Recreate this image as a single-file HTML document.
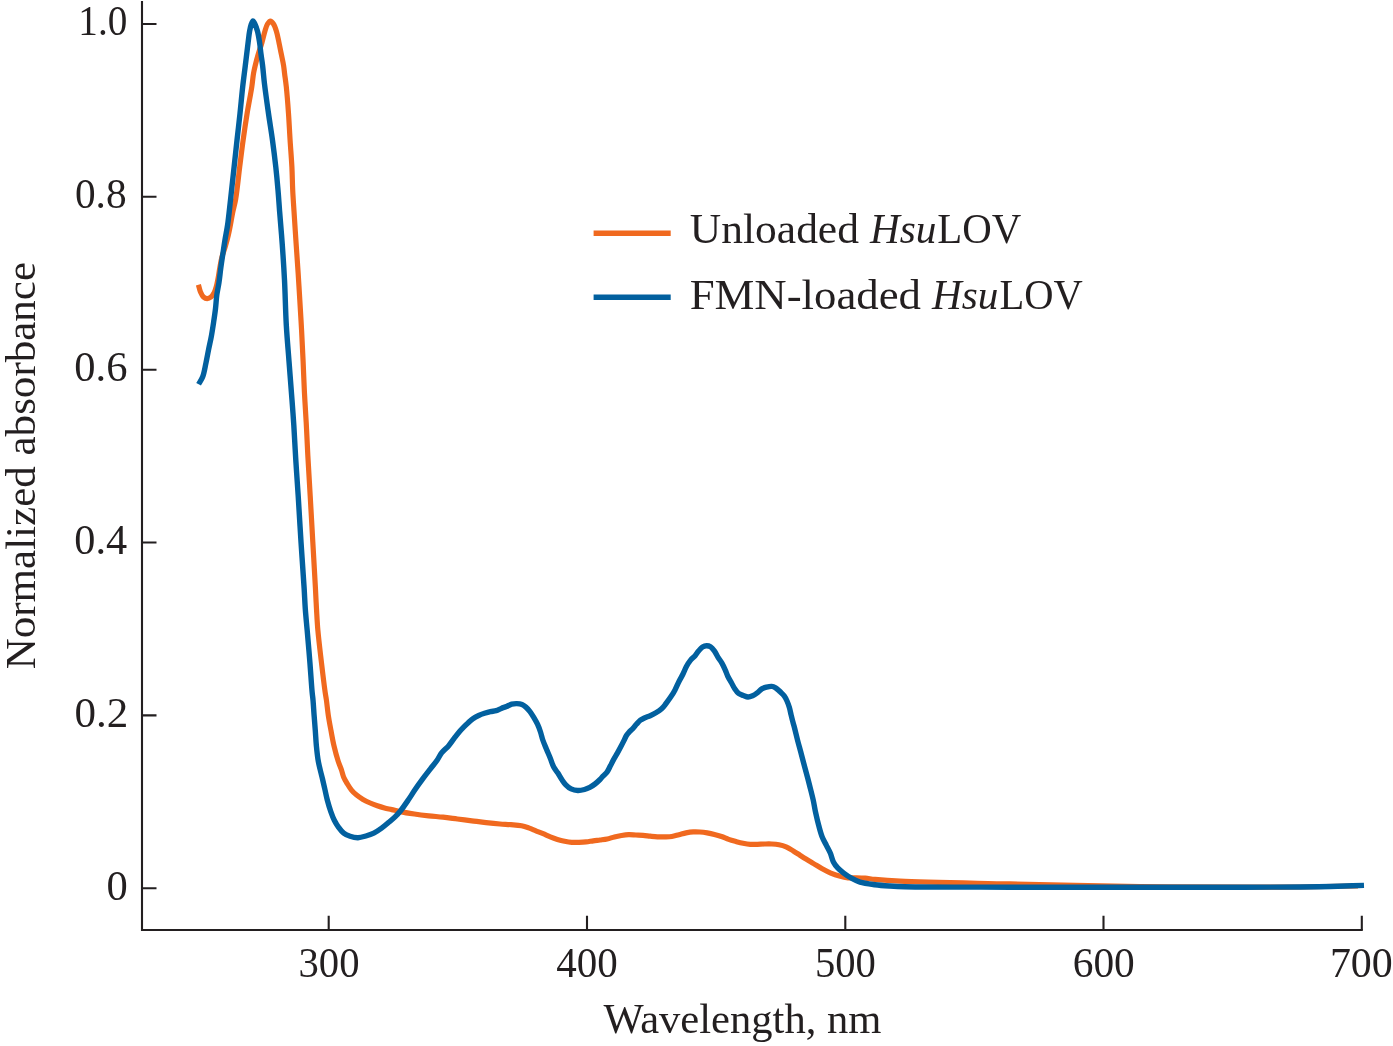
<!DOCTYPE html>
<html><head><meta charset="utf-8"><title>Normalized absorbance spectra</title>
<style>
html,body{margin:0;padding:0;background:#fff;width:1393px;height:1046px;overflow:hidden}
svg{display:block;will-change:transform}
text{font-family:"Liberation Serif","Times New Roman",serif;fill:#231f20}
</style></head><body>
<svg width="1393" height="1046" viewBox="0 0 1393 1046">
<rect width="1393" height="1046" fill="#fff"/>
<path d="M142,1 V930 H1362.8" fill="none" stroke="#231f20" stroke-width="2.1" stroke-linejoin="miter"/>
<path d="M142,24.0 H156.5 M142,196.8 H156.5 M142,369.7 H156.5 M142,542.5 H156.5 M142,715.4 H156.5 M142,888.2 H156.5 M328.7,930 V915.8 M587.0,930 V915.8 M845.3,930 V915.8 M1103.5,930 V915.8 M1361.8,930 V915.8" fill="none" stroke="#231f20" stroke-width="2.1"/>
<path d="M593.6,233.2 H670.7" stroke="#f0691f" stroke-width="5.4"/>
<path d="M593.6,297.2 H670.7" stroke="#02609f" stroke-width="5.6"/>
<text x="78.32" y="34.6" font-size="42.5" textLength="49.00" lengthAdjust="spacingAndGlyphs">1.0</text>
<text x="74.97" y="207.6" font-size="42.5" textLength="51.60" lengthAdjust="spacingAndGlyphs">0.8</text>
<text x="74.35" y="380.6" font-size="42.5" textLength="53.14" lengthAdjust="spacingAndGlyphs">0.6</text>
<text x="74.37" y="553.5" font-size="42.5" textLength="52.85" lengthAdjust="spacingAndGlyphs">0.4</text>
<text x="74.41" y="726.6" font-size="42.5" textLength="53.78" lengthAdjust="spacingAndGlyphs">0.2</text>
<text x="106.58" y="899.5" font-size="42.5" textLength="21.27" lengthAdjust="spacingAndGlyphs">0</text>
<text x="298.52" y="976.8" font-size="42.5" textLength="61.02" lengthAdjust="spacingAndGlyphs">300</text>
<text x="556.15" y="976.8" font-size="42.5" textLength="61.52" lengthAdjust="spacingAndGlyphs">400</text>
<text x="814.89" y="976.8" font-size="42.5" textLength="60.96" lengthAdjust="spacingAndGlyphs">500</text>
<text x="1072.73" y="976.8" font-size="42.5" textLength="62.09" lengthAdjust="spacingAndGlyphs">600</text>
<text x="1329.90" y="976.8" font-size="42.5" textLength="62.92" lengthAdjust="spacingAndGlyphs">700</text>
<text x="689.89" y="242.6" font-size="41.5" textLength="169.03" lengthAdjust="spacingAndGlyphs">Unloaded</text>
<text x="869.88" y="242.6" font-size="41.5" font-style="italic" textLength="66.54" lengthAdjust="spacingAndGlyphs">Hsu</text>
<text x="937.29" y="242.6" font-size="41.5" textLength="83.97" lengthAdjust="spacingAndGlyphs">LOV</text>
<text x="689.66" y="308.5" font-size="41.5" textLength="231.27" lengthAdjust="spacingAndGlyphs">FMN-loaded</text>
<text x="932.01" y="308.5" font-size="41.5" font-style="italic" textLength="66.49" lengthAdjust="spacingAndGlyphs">Hsu</text>
<text x="999.58" y="308.5" font-size="41.5" textLength="83.33" lengthAdjust="spacingAndGlyphs">LOV</text>
<text x="603.42" y="1032.9" font-size="41.2" textLength="277.98" lengthAdjust="spacingAndGlyphs">Wavelength, nm</text>
<text transform="translate(35.00,669.31) rotate(-90)" x="0" y="0" font-size="42" textLength="407.34" lengthAdjust="spacingAndGlyphs">Normalized absorbance</text>
<path d="M198.40,284.70 C199.10,287.13 199.56,289.85 200.50,292.00 C201.32,293.88 202.24,295.89 203.50,297.00 C204.55,297.92 205.96,298.59 207.20,298.60 C208.46,298.61 209.90,297.86 211.00,297.00 C212.21,296.06 213.16,294.54 214.00,293.00 C214.94,291.26 215.57,289.19 216.20,287.00 C216.93,284.48 217.43,281.65 218.00,278.70 C218.64,275.37 219.15,271.57 219.80,268.00 C220.45,264.40 220.99,260.77 221.90,257.20 C222.82,253.60 224.25,250.09 225.30,246.50 C226.35,242.92 227.35,239.30 228.20,235.70 C229.04,232.14 229.69,228.67 230.40,225.00 C231.15,221.12 231.76,217.14 232.60,213.00 C233.51,208.53 234.73,204.72 235.70,199.10 C237.17,190.63 238.41,177.21 239.70,167.00 C240.87,157.69 241.87,149.20 243.10,140.30 C244.34,131.37 245.65,122.42 247.10,113.50 C248.55,104.58 250.68,94.16 251.80,86.80 C252.59,81.64 252.85,77.44 253.50,73.60 C254.01,70.59 254.50,68.50 255.20,65.60 C256.04,62.10 257.18,57.91 258.30,54.10 C259.42,50.28 260.80,46.52 261.90,42.70 C263.00,38.89 263.86,34.57 264.90,31.20 C265.74,28.50 266.38,25.80 267.50,24.00 C268.33,22.67 269.41,21.02 270.40,21.00 C271.41,20.98 272.60,22.66 273.50,24.00 C274.71,25.79 275.55,28.48 276.40,31.20 C277.45,34.55 278.18,38.87 279.00,42.70 C279.81,46.50 280.53,50.29 281.30,54.10 C282.07,57.92 283.03,62.10 283.60,65.60 C284.07,68.50 284.22,70.60 284.60,73.60 C285.09,77.45 285.75,81.63 286.30,86.80 C287.07,94.14 287.87,104.59 288.50,113.50 C289.13,122.42 289.53,131.38 290.10,140.30 C290.67,149.21 291.46,158.43 291.90,167.00 C292.31,174.95 292.34,182.49 292.70,190.00 C293.05,197.21 293.51,203.49 294.00,211.20 C294.59,220.47 295.32,231.60 296.00,241.80 C296.68,252.00 297.45,262.46 298.10,272.40 C298.71,281.84 299.23,290.56 299.80,300.00 C300.40,309.94 301.05,320.40 301.60,330.60 C302.15,340.80 302.63,351.00 303.10,361.20 C303.57,371.40 303.88,381.60 304.40,391.80 C304.92,402.00 305.64,412.04 306.20,422.40 C306.78,433.09 307.18,443.52 307.80,455.00 C308.49,467.86 309.39,481.87 310.20,495.90 C311.06,510.76 311.93,526.50 312.80,541.80 C313.67,557.10 314.73,575.30 315.40,587.70 C315.86,596.15 316.09,601.88 316.50,609.00 C316.92,616.18 317.21,622.78 317.90,630.60 C318.72,639.92 320.10,651.00 321.30,661.20 C322.50,671.40 324.12,684.85 325.10,691.80 C325.61,695.41 325.95,696.84 326.40,700.00 C327.01,704.31 327.54,710.21 328.30,715.30 C329.07,720.41 330.05,725.50 331.00,730.60 C331.95,735.70 332.81,740.82 334.00,745.90 C335.20,751.02 336.78,756.83 338.20,761.20 C339.29,764.56 340.55,767.20 341.50,770.00 C342.35,772.51 342.74,774.92 343.70,777.20 C344.65,779.45 345.93,781.48 347.20,783.60 C348.52,785.79 349.89,788.15 351.50,790.10 C353.04,791.97 354.73,793.57 356.60,795.10 C358.55,796.69 360.76,798.09 363.00,799.40 C365.29,800.73 367.78,801.92 370.20,803.00 C372.55,804.05 374.91,804.96 377.30,805.80 C379.68,806.63 382.09,807.36 384.50,808.00 C386.89,808.63 389.22,809.03 391.70,809.60 C394.37,810.22 396.84,810.96 400.00,811.60 C404.13,812.44 409.60,813.30 414.40,814.00 C419.17,814.70 423.92,815.27 428.70,815.80 C433.49,816.33 438.31,816.67 443.10,817.20 C447.88,817.73 452.62,818.40 457.40,819.00 C462.19,819.60 467.01,820.20 471.80,820.80 C476.58,821.40 481.36,822.06 486.10,822.60 C490.76,823.13 495.66,823.64 500.00,824.00 C503.82,824.32 507.21,824.40 510.80,824.70 C514.38,825.00 518.31,825.18 521.50,825.80 C524.16,826.32 526.32,827.08 528.70,827.90 C531.12,828.74 533.50,829.83 535.90,830.80 C538.30,831.77 540.71,832.69 543.10,833.70 C545.51,834.72 547.89,835.94 550.30,836.90 C552.66,837.84 555.01,838.68 557.40,839.40 C559.78,840.11 562.19,840.72 564.60,841.20 C566.99,841.68 569.40,842.12 571.80,842.30 C574.17,842.48 576.53,842.37 578.90,842.30 C581.29,842.23 583.71,842.15 586.10,841.90 C588.51,841.65 590.94,841.12 593.30,840.80 C595.57,840.49 597.73,840.29 600.00,840.00 C602.36,839.70 604.82,839.51 607.20,839.00 C609.62,838.48 612.00,837.49 614.40,836.90 C616.76,836.32 619.12,835.87 621.50,835.50 C623.88,835.13 626.30,834.78 628.70,834.70 C631.10,834.62 633.50,834.90 635.90,835.00 C638.30,835.10 640.70,835.10 643.10,835.30 C645.50,835.50 647.91,835.93 650.30,836.20 C652.67,836.47 655.02,836.78 657.40,836.90 C659.79,837.02 662.20,836.97 664.60,836.90 C667.00,836.83 669.42,836.86 671.80,836.50 C674.22,836.13 676.61,835.30 679.00,834.70 C681.38,834.10 683.71,833.37 686.10,832.90 C688.48,832.43 690.94,832.05 693.30,831.90 C695.57,831.76 697.73,831.84 700.00,832.00 C702.36,832.16 704.81,832.50 707.20,832.90 C709.61,833.30 712.02,833.80 714.40,834.40 C716.79,835.00 719.14,835.68 721.50,836.50 C723.91,837.34 726.28,838.56 728.70,839.40 C731.08,840.22 733.49,840.85 735.90,841.50 C738.29,842.15 740.69,842.82 743.10,843.30 C745.49,843.78 747.90,844.23 750.30,844.40 C752.67,844.56 755.03,844.37 757.40,844.30 C759.79,844.23 762.20,844.05 764.60,844.00 C767.00,843.95 769.40,843.87 771.80,844.00 C774.20,844.13 776.63,844.32 779.00,844.80 C781.40,845.28 783.78,845.93 786.10,846.90 C788.55,847.93 790.96,849.50 793.30,850.90 C795.60,852.27 797.83,853.81 800.00,855.20 C802.05,856.51 803.87,857.68 806.00,859.00 C808.38,860.47 810.99,862.02 813.60,863.60 C816.38,865.28 819.30,867.20 822.20,868.80 C825.04,870.36 827.89,871.87 830.80,873.10 C833.63,874.29 836.51,875.31 839.40,876.10 C842.24,876.87 845.12,877.52 848.00,877.80 C850.85,878.08 853.73,877.73 856.60,877.80 C859.47,877.87 862.24,877.95 865.20,878.20 C868.36,878.47 870.98,879.01 875.00,879.40 C881.41,880.02 888.71,880.66 900.00,881.20 C923.67,882.34 971.80,883.05 1010.00,883.90 C1051.52,884.82 1098.47,885.95 1140.00,886.50 C1178.20,887.00 1220.47,887.17 1250.00,887.20 C1269.91,887.22 1282.72,887.21 1300.00,887.00 C1318.62,886.77 1338.67,886.20 1358.00,885.80" fill="none" stroke="#f0691f" stroke-width="5.2" stroke-linejoin="round" stroke-linecap="butt"/>
<path d="M198.60,384.20 C199.97,381.73 201.57,379.73 202.70,376.80 C204.15,373.03 204.92,367.75 205.90,363.20 C206.88,358.65 207.68,354.06 208.60,349.50 C209.52,344.96 210.57,340.44 211.40,335.90 C212.23,331.38 212.92,326.85 213.60,322.30 C214.28,317.75 214.97,313.16 215.50,308.60 C216.03,304.06 216.20,299.44 216.80,295.00 C217.38,290.68 218.35,286.67 219.00,282.30 C219.69,277.68 220.15,272.76 220.80,268.00 C221.45,263.23 222.18,258.47 222.90,253.70 C223.62,248.91 224.32,244.09 225.10,239.30 C225.88,234.52 226.81,230.44 227.60,225.00 C228.64,217.84 229.50,208.91 230.50,200.00 C231.65,189.76 232.97,177.42 234.10,167.00 C235.12,157.63 236.02,149.21 237.00,140.30 C237.98,131.37 239.05,122.43 240.00,113.50 C240.95,104.59 241.76,95.18 242.70,86.80 C243.54,79.32 244.57,71.59 245.30,65.60 C245.84,61.19 246.23,57.92 246.70,54.10 C247.17,50.29 247.62,46.51 248.10,42.70 C248.58,38.87 248.99,34.51 249.60,31.20 C250.07,28.65 250.52,26.34 251.20,24.50 C251.72,23.11 252.37,21.03 253.00,21.00 C253.60,20.97 254.28,22.74 254.90,24.00 C255.80,25.85 256.77,28.49 257.50,31.20 C258.41,34.55 259.02,38.87 259.60,42.70 C260.18,46.50 260.50,50.29 261.00,54.10 C261.50,57.93 262.08,61.31 262.60,65.60 C263.26,71.01 263.68,77.15 264.50,84.00 C265.54,92.69 267.13,103.91 268.50,113.50 C269.80,122.65 271.28,131.37 272.50,140.30 C273.71,149.20 274.86,158.43 275.80,167.00 C276.67,174.95 277.36,182.49 278.00,190.00 C278.62,197.21 278.99,203.31 279.60,211.20 C280.37,221.16 281.49,233.63 282.30,245.00 C283.13,256.56 283.86,267.60 284.50,280.00 C285.22,294.05 285.49,310.82 286.30,325.00 C287.03,337.73 288.07,348.92 289.00,361.20 C289.97,373.91 291.14,388.48 292.00,400.00 C292.69,409.24 293.22,415.96 293.80,425.00 C294.49,435.69 295.07,448.26 295.80,460.00 C296.54,471.89 297.39,483.20 298.20,495.90 C299.12,510.26 300.02,526.50 301.00,541.80 C301.98,557.10 303.33,575.30 304.10,587.70 C304.62,596.14 304.79,601.88 305.30,609.00 C305.82,616.18 306.52,622.77 307.20,630.60 C308.01,639.91 308.98,651.00 309.80,661.20 C310.62,671.40 311.46,684.85 312.10,691.80 C312.43,695.41 312.71,696.84 313.00,700.00 C313.39,704.31 313.72,710.20 314.10,715.30 C314.48,720.40 314.92,725.50 315.30,730.60 C315.68,735.70 315.90,740.81 316.40,745.90 C316.90,751.01 317.51,756.68 318.30,761.20 C318.93,764.85 319.77,767.90 320.50,771.00 C321.17,773.81 321.82,776.18 322.50,779.00 C323.25,782.14 324.02,785.59 324.80,789.00 C325.62,792.58 326.32,796.30 327.30,800.00 C328.31,803.83 329.54,808.05 330.80,811.60 C331.90,814.71 332.95,817.52 334.30,820.20 C335.57,822.73 337.00,825.12 338.60,827.30 C340.14,829.40 341.74,831.59 343.70,833.10 C345.59,834.56 347.79,835.54 350.10,836.30 C352.54,837.11 355.37,837.75 358.00,837.70 C360.64,837.65 363.29,836.76 365.90,836.00 C368.56,835.23 371.24,834.37 373.80,833.10 C376.48,831.77 379.10,829.90 381.60,828.10 C384.10,826.30 386.48,824.25 388.80,822.30 C391.04,820.41 393.31,818.55 395.30,816.60 C397.16,814.78 398.58,813.25 400.40,811.00 C402.85,807.97 405.89,803.48 408.40,799.80 C410.77,796.32 412.76,792.94 415.10,789.50 C417.52,785.94 420.12,782.28 422.70,778.80 C425.23,775.39 427.92,772.00 430.40,768.80 C432.71,765.82 435.13,763.03 437.10,760.20 C438.88,757.64 439.94,754.95 441.80,752.60 C443.72,750.18 446.42,748.29 448.50,745.90 C450.59,743.49 452.36,740.71 454.30,738.20 C456.19,735.75 458.24,733.05 460.00,731.00 C461.39,729.38 462.53,728.18 463.90,726.80 C465.32,725.37 466.89,723.96 468.40,722.60 C469.89,721.26 471.24,719.86 472.90,718.70 C474.65,717.48 476.73,716.41 478.70,715.50 C480.60,714.62 482.54,713.95 484.50,713.30 C486.45,712.65 488.43,712.04 490.40,711.60 C492.33,711.17 494.36,711.25 496.20,710.70 C497.99,710.17 499.58,709.10 501.30,708.40 C503.01,707.70 504.78,707.19 506.50,706.50 C508.25,705.80 509.94,704.68 511.70,704.20 C513.37,703.74 515.10,703.55 516.80,703.60 C518.53,703.65 520.45,703.88 522.00,704.50 C523.46,705.08 524.66,706.04 525.90,707.10 C527.27,708.27 528.57,709.73 529.80,711.30 C531.15,713.03 532.36,715.04 533.60,717.10 C534.94,719.32 536.36,721.74 537.50,724.20 C538.66,726.70 539.62,729.36 540.50,732.00 C541.38,734.63 541.87,737.28 542.80,740.00 C543.81,742.94 545.15,745.97 546.40,749.00 C547.68,752.13 549.15,755.41 550.40,758.50 C551.57,761.40 552.38,764.50 553.70,767.00 C554.86,769.19 556.39,770.78 557.70,772.80 C559.09,774.93 560.39,777.43 561.80,779.50 C563.10,781.40 564.25,783.24 565.80,784.80 C567.35,786.37 569.12,787.95 571.10,788.90 C573.11,789.86 575.56,790.40 577.80,790.50 C580.02,790.60 582.43,790.06 584.50,789.50 C586.40,788.99 588.09,788.29 589.80,787.40 C591.59,786.47 593.33,785.28 595.00,784.00 C596.74,782.66 598.58,780.93 600.00,779.50 C601.17,778.32 601.91,777.26 603.00,776.10 C604.22,774.80 605.82,773.68 607.00,772.10 C608.33,770.32 609.32,767.85 610.40,765.80 C611.42,763.86 612.21,762.09 613.30,760.10 C614.54,757.82 616.19,755.23 617.50,752.90 C618.71,750.74 619.82,748.65 620.90,746.60 C621.92,744.66 622.85,742.80 623.80,740.90 C624.75,739.00 625.55,736.82 626.60,735.20 C627.49,733.83 628.46,732.83 629.50,731.70 C630.58,730.53 631.87,729.51 633.00,728.30 C634.17,727.05 635.20,725.62 636.40,724.30 C637.66,722.92 638.98,721.28 640.40,720.20 C641.67,719.24 642.92,718.70 644.40,718.00 C646.13,717.18 648.29,716.56 650.20,715.70 C652.13,714.83 654.04,713.92 655.90,712.80 C657.84,711.63 659.91,710.36 661.60,708.80 C663.28,707.25 664.52,705.41 666.00,703.50 C667.65,701.38 669.47,698.92 671.00,696.60 C672.46,694.38 673.72,692.31 675.00,689.90 C676.43,687.22 677.70,683.96 679.10,681.20 C680.41,678.61 681.87,676.28 683.10,673.80 C684.30,671.38 685.15,668.78 686.40,666.50 C687.59,664.33 688.91,662.23 690.40,660.40 C691.82,658.65 693.71,657.31 695.10,655.70 C696.39,654.21 697.27,652.55 698.50,651.10 C699.73,649.65 701.05,647.90 702.50,647.00 C703.75,646.23 705.16,645.75 706.50,645.70 C707.83,645.65 709.27,645.96 710.50,646.70 C711.98,647.58 713.30,649.45 714.50,651.10 C715.79,652.88 716.68,655.12 717.90,657.10 C719.15,659.12 720.69,661.00 721.90,663.10 C723.13,665.23 724.19,667.55 725.20,669.80 C726.19,672.02 726.87,674.36 727.90,676.50 C728.91,678.59 730.18,680.50 731.30,682.50 C732.41,684.50 733.35,686.65 734.60,688.50 C735.80,690.27 737.04,692.22 738.60,693.40 C740.02,694.47 741.80,694.89 743.40,695.50 C744.94,696.08 746.46,696.95 748.00,697.00 C749.53,697.05 751.11,696.44 752.60,695.80 C754.19,695.11 755.71,694.01 757.20,692.90 C758.78,691.73 760.17,689.86 761.80,688.90 C763.26,688.04 764.80,687.61 766.40,687.20 C768.06,686.77 770.00,686.25 771.60,686.40 C773.04,686.53 774.29,687.04 775.60,687.80 C777.17,688.71 778.74,690.44 780.20,691.80 C781.60,693.11 783.07,694.29 784.20,695.80 C785.35,697.35 786.17,699.15 787.00,701.00 C787.88,702.97 788.63,705.09 789.30,707.30 C790.01,709.67 790.50,712.36 791.10,714.80 C791.67,717.12 792.24,719.47 792.80,721.60 C793.30,723.51 793.72,724.80 794.30,727.00 C795.21,730.45 796.50,736.03 797.60,740.30 C798.63,744.28 799.68,747.96 800.70,751.80 C801.72,755.63 802.68,759.48 803.70,763.30 C804.72,767.11 805.78,770.89 806.80,774.70 C807.82,778.52 808.78,782.19 809.80,786.20 C810.91,790.59 812.20,795.47 813.20,800.00 C814.16,804.36 814.77,808.61 815.70,812.90 C816.64,817.21 817.68,821.67 818.80,825.80 C819.85,829.68 820.83,833.57 822.20,837.00 C823.44,840.11 825.10,842.81 826.50,845.60 C827.83,848.24 829.26,850.62 830.40,853.30 C831.57,856.05 832.09,859.37 833.40,861.90 C834.58,864.18 836.02,866.06 837.70,867.90 C839.44,869.81 841.52,871.44 843.70,873.10 C846.05,874.89 848.70,876.71 851.40,878.20 C854.13,879.71 856.66,881.07 860.00,882.10 C864.24,883.41 869.99,884.05 875.00,884.70 C879.99,885.35 885.00,885.67 890.00,886.00 C895.00,886.33 897.74,886.51 905.00,886.70 C924.20,887.19 973.13,887.10 1010.00,887.20 C1051.02,887.31 1099.19,887.28 1140.00,887.30 C1176.33,887.31 1213.71,887.38 1243.00,887.30 C1264.79,887.24 1284.02,887.18 1300.00,887.00 C1311.59,886.87 1319.69,886.75 1330.00,886.50 C1340.98,886.23 1352.67,885.77 1364.00,885.40" fill="none" stroke="#02609f" stroke-width="5.4" stroke-linejoin="round" stroke-linecap="butt"/>
</svg>
</body></html>
